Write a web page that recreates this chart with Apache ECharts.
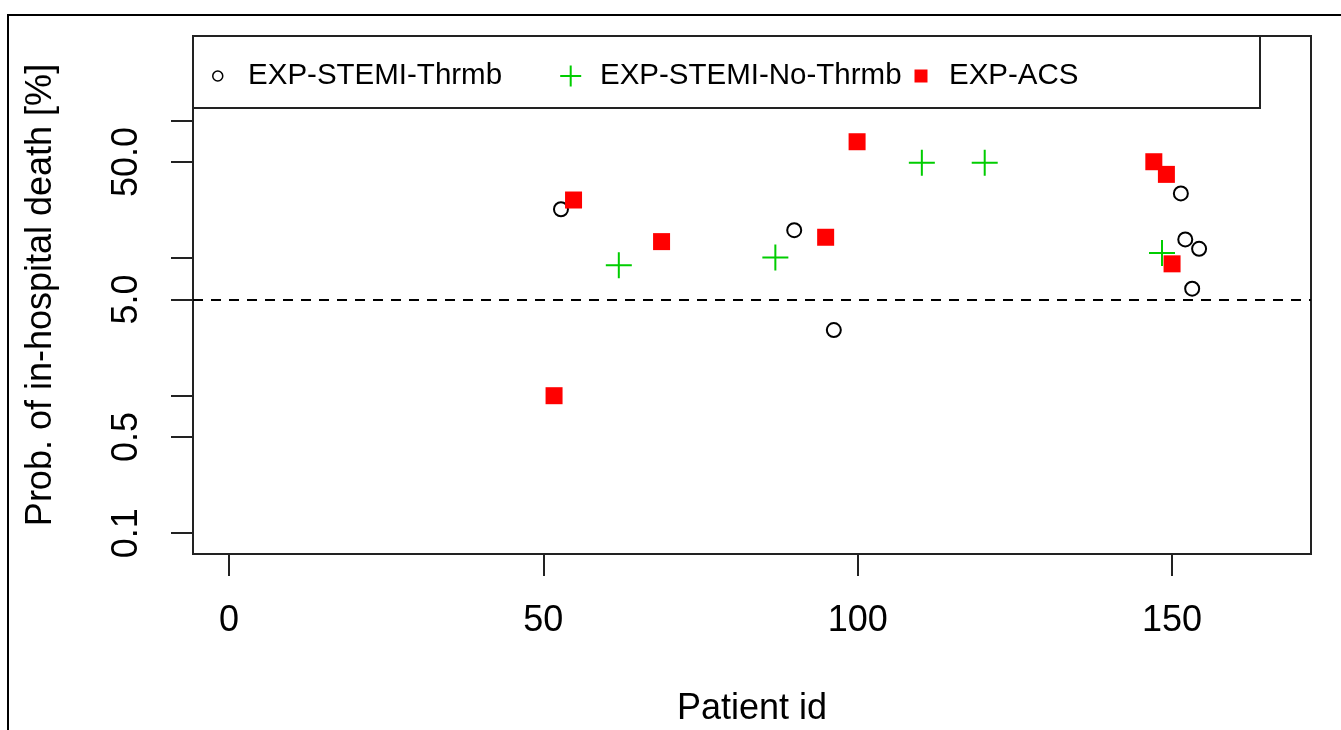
<!DOCTYPE html>
<html><head><meta charset="utf-8">
<script src="https://cdn.jsdelivr.net/npm/echarts@6/dist/echarts.min.js"></script>
<style>html,body{margin:0;padding:0;background:#fff}#c{width:1341px;height:730px}</style>
</head><body><div id="c"></div>
<script>
// ---- data ----
const seriesNames = ['EXP-STEMI-Thrmb', 'EXP-STEMI-No-Thrmb', 'EXP-ACS'];
const thrmbIds   = [52.8, 89.9, 96.2, 151.4, 152.1, 154.3, 153.2];
const thrmbProb  = [22.7, 16.0, 3.0, 29.6, 13.7, 11.7, 6.0];
const noThrmbIds  = [62.0, 86.9, 110.2, 120.2, 148.4];
const noThrmbProb = [8.9, 10.1, 49.5, 49.5, 10.9];
const acsIds  = [51.7, 54.8, 68.8, 94.9, 99.9, 147.1, 149.1, 150.0];
const acsProb = [1.0, 26.5, 13.2, 14.2, 70.3, 50.3, 40.7, 9.1];
const xTicks = [0, 50, 100, 150];
const yTicks = [0.1, 0.5, 1, 5, 10, 50, 100];
const yLabels = [0.1, 0.5, 5, 50];
const refLine = 5;
const xTitle = 'Patient id';
const yTitle = 'Prob. of in-hospital death [%]';

const FONT = '"Liberation Sans", Arial, sans-serif';
const pair = (xs, ys) => xs.map((x, i) => [x, ys[i]]);
const PLUS = 'path://M12,0 L12,24 M0,12 L24,12';
const SQUARE = 'path://M0,0 L10,0 L10,10 L0,10 Z';

const chart = echarts.init(document.getElementById('c'), null, {renderer: 'canvas'});
const legendText = {fontSize: 29.5, lineHeight: 30, color: '#000', fontFamily: FONT};
chart.setOption({
  animation: false,
  textStyle: {fontFamily: FONT},
  grid: {left: 193, right: 30, top: 36, bottom: 176, show: true, borderColor: '#222', borderWidth: 2,
         backgroundColor: 'transparent', containLabel: false, outerBoundsMode: 'none'},
  xAxis: {
    type: 'value', min: -5.73, max: 172.1,
    axisLine: {show: false, onZero: false},
    splitLine: {show: false},
    axisTick: {show: true, length: 22, customValues: xTicks, lineStyle: {color: '#222', width: 2}},
    axisLabel: {customValues: xTicks, fontSize: 36, color: '#000', margin: 49, fontFamily: FONT},
    name: xTitle, nameLocation: 'middle', nameGap: 137,
    nameTextStyle: {fontSize: 36, color: '#000', fontFamily: FONT}
  },
  yAxis: {
    type: 'log', logBase: 10, min: 0.0706, max: 413,
    axisLine: {show: false, onZero: false},
    splitLine: {show: false},
    minorTick: {show: false},
    axisTick: {show: true, length: 22, customValues: yTicks, lineStyle: {color: '#222', width: 2}},
    axisLabel: {customValues: yLabels, rotate: 90, fontSize: 36, color: '#000', margin: 48, fontFamily: FONT,
      formatter: v => Number(v).toFixed(1)},
    name: yTitle, nameLocation: 'middle', nameGap: 134, nameRotate: 90,
    nameTextStyle: {fontSize: 36, color: '#000', fontFamily: FONT}
  },
  legend: [
    {data: [{name: seriesNames[0], icon: 'circle', itemStyle: {color: 'transparent', borderColor: '#000', borderWidth: 1.5}}],
     left: 212, top: 61, itemWidth: 50.6, itemHeight: 10, padding: 0, selectedMode: false, symbolKeepAspect: true, textStyle: legendText, z: 20},
    {data: [{name: seriesNames[1], icon: PLUS, itemStyle: {color: 'transparent', borderColor: '#00cd00', borderWidth: 2}}],
     left: 559.2, top: 61, itemWidth: 48.6, itemHeight: 21, padding: 0, selectedMode: false, symbolKeepAspect: true, textStyle: legendText, z: 20},
    {data: [{name: seriesNames[2], icon: SQUARE, itemStyle: {color: '#ff0000', borderWidth: 0, opacity: 1}}],
     left: 914.5, top: 61, itemWidth: 46, itemHeight: 13, padding: 0, selectedMode: false, symbolKeepAspect: true, textStyle: legendText, z: 20}
  ],
  graphic: [
    {type: 'rect', z: 10, shape: {x: 193, y: 36, width: 1067, height: 72}, style: {fill: '#fff', stroke: '#222', lineWidth: 2}},
    {type: 'rect', z: 10, shape: {x: 8, y: 15, width: 1400, height: 800}, style: {fill: 'none', stroke: '#000', lineWidth: 2}}
  ],
  series: [
    {name: seriesNames[0], type: 'scatter', data: pair(thrmbIds, thrmbProb), symbol: 'circle', symbolSize: 14,
     itemStyle: {color: 'transparent', borderColor: '#000', borderWidth: 2, opacity: 1}, z: 3,
     markLine: {silent: true, symbol: 'none', label: {show: false}, animation: false,
       lineStyle: {color: '#000', type: [10, 8], width: 2}, data: [{yAxis: refLine}]}},
    {name: seriesNames[1], type: 'scatter', data: pair(noThrmbIds, noThrmbProb), symbol: PLUS, symbolSize: 26,
     itemStyle: {color: 'transparent', borderColor: '#00cd00', borderWidth: 2, opacity: 1}, z: 3},
    {name: seriesNames[2], type: 'scatter', data: pair(acsIds, acsProb), symbol: 'rect', symbolSize: 17,
     itemStyle: {color: '#ff0000', opacity: 1}, z: 3}
  ]
});
</script></body></html>
